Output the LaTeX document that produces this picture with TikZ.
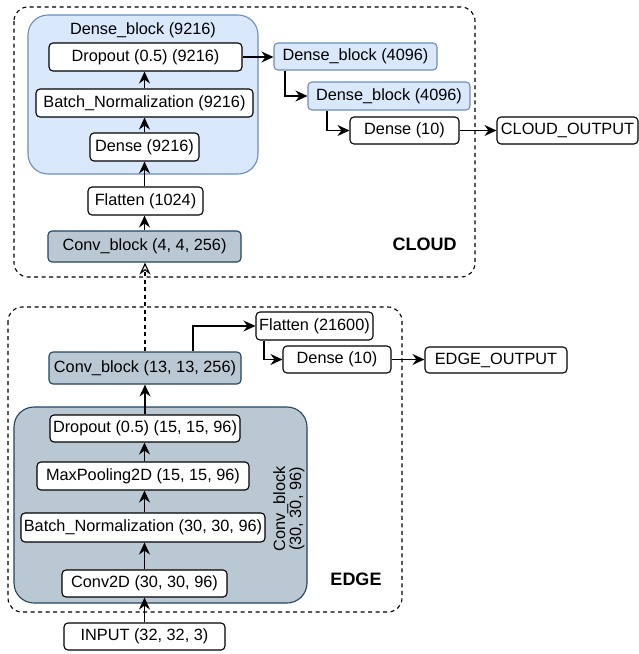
\documentclass[tikz,border=0pt]{standalone}
\usepackage{fontspec}
\setmainfont{Liberation Sans}
\usetikzlibrary{arrows.meta}
\definecolor{blockblue}{HTML}{DAE8FC}
\definecolor{blockblueline}{HTML}{6C8EBF}
\definecolor{convgrey}{HTML}{BAC8D3}
\definecolor{convgreyline}{HTML}{23445D}
\tikzset{
  layer/.style={draw, fill=white, rounded corners=4pt, line width=1.1pt,
    inner sep=0pt, anchor=center, font=\fontsize{16.3}{19}\selectfont},
  bluelayer/.style={layer, fill=blockblue, draw=blockblueline},
  greylayer/.style={layer, fill=convgrey, draw=convgreyline},
  zone/.style={draw, dashed, dash pattern=on 4pt off 3.5pt, line width=1.1pt, rounded corners=14pt},
  container/.style={line width=1.1pt, rounded corners=20pt},
  arr/.style={line width=1.4pt, -{Stealth[length=12pt,width=11pt,inset=4pt]}},
  openarr/.style={line width=1.2pt, dashed, dash pattern=on 4pt off 3.5pt,
    -{Stealth[open,length=12pt,width=11pt,inset=4pt,line width=1.2pt]}},
  zonelabel/.style={font=\fontsize{18}{21}\selectfont\bfseries},
}
\begin{document}
\begin{tikzpicture}[x=1pt,y=-1pt]
\useasboundingbox (0,0) rectangle (639,654);

% dashed zones
\draw[zone] (14,7) rectangle (475,277);
\draw[zone] (8,307) rectangle (402,612);
\node[zonelabel] (cloudlbl) at (424.5,244.5) {CLOUD};
\node[zonelabel] (edgelbl) at (356,579) {EDGE};

% containers
\draw[container, fill=blockblue, draw=blockblueline] (28,15) rectangle (258,174);
\node[font=\fontsize{16.3}{19}\selectfont] (denseblktitle) at (143,30) {Dense\_block (9216)};
\draw[container, fill=convgrey, draw=convgreyline] (14,407) rectangle (307,603);
\node[font=\fontsize{16.3}{16}\selectfont, rotate=90, align=center] (convblktitle) at (289,509) {Conv\_block\\(30, 30, 96)};

% cloud layers
\node[layer, minimum width=193pt, minimum height=28pt] (drop1) at (145.5,57) {Dropout (0.5) (9216)};
\node[layer, minimum width=217pt, minimum height=28pt] (bn1) at (144.5,103) {Batch\_Normalization (9216)};
\node[layer, minimum width=109pt, minimum height=28pt] (dense1) at (144.5,147) {Dense (9216)};
\node[layer, minimum width=115pt, minimum height=28pt] (flat1) at (145.5,201) {Flatten (1024)};
\node[greylayer, minimum width=193pt, minimum height=31pt] (conv4) at (144.5,246.5) {Conv\_block (4, 4, 256)};
\node[bluelayer, minimum width=163pt, minimum height=27pt] (db1) at (355.5,56.5) {Dense\_block (4096)};
\node[bluelayer, minimum width=162pt, minimum height=28pt] (db2) at (389,96) {Dense\_block (4096)};
\node[layer, minimum width=109pt, minimum height=27pt] (dense10c) at (404.5,130.5) {Dense (10)};
\node[layer, minimum width=141pt, minimum height=27pt] (cloudout) at (567.5,130.5) {CLOUD\_OUTPUT};

% edge layers
\node[greylayer, minimum width=192pt, minimum height=32pt] (conv13) at (145,368) {Conv\_block (13, 13, 256)};
\node[layer, minimum width=117pt, minimum height=28pt] (flat2) at (314.5,326) {Flatten (21600)};
\node[layer, minimum width=108pt, minimum height=27pt] (dense10e) at (337,359.5) {Dense (10)};
\node[layer, minimum width=142pt, minimum height=26pt] (edgeout) at (496,360) {EDGE\_OUTPUT};
\node[layer, minimum width=190pt, minimum height=27pt] (drop2) at (145,428.5) {Dropout (0.5) (15, 15, 96)};
\node[layer, minimum width=212pt, minimum height=28pt] (mp) at (143,476) {MaxPooling2D (15, 15, 96)};
\node[layer, minimum width=244pt, minimum height=29pt] (bn2) at (143,527.5) {Batch\_Normalization (30, 30, 96)};
\node[layer, minimum width=165pt, minimum height=27pt] (conv2d) at (144.5,583.5) {Conv2D (30, 30, 96)};
\node[layer, minimum width=161pt, minimum height=27pt] (input) at (144.5,636.5) {INPUT (32, 32, 3)};

% edge connectors
\draw[arr] (input.north) -- (input.north |- conv2d.south);
\draw[arr] (conv2d.north) -- (conv2d.north |- bn2.south);
\draw[arr] (conv2d.north |- bn2.north) -- (conv2d.north |- mp.south);
\draw[arr] (conv2d.north |- mp.north) -- (conv2d.north |- drop2.south);
\draw[arr] (drop2.north) -- (drop2.north |- conv13.south);
\draw[arr] ([xshift=48pt]conv13.north) |- (flat2.west);
\draw[arr] ([xshift=-50.5pt]flat2.south) |- (dense10e.west);
\draw[arr] (dense10e.east) -- (dense10e.east -| edgeout.west);

% edge to cloud
\draw[openarr] (conv13.north) -- (conv13.north |- conv4.south);

% cloud connectors
\draw[arr] (conv4.north) -- (conv4.north |- flat1.south);
\draw[arr] (conv4.north |- flat1.north) -- (conv4.north |- dense1.south);
\draw[arr] (conv4.north |- dense1.north) -- (conv4.north |- bn1.south);
\draw[arr] (conv4.north |- bn1.north) -- (conv4.north |- drop1.south);
\draw[arr] (drop1.east) -- (drop1.east -| db1.west);
\draw[arr] ([xshift=-70.5pt]db1.south) |- (db2.west);
\draw[arr] ([xshift=-62pt]db2.south) |- (dense10c.west);
\draw[arr] (dense10c.east) -- (cloudout.west);
\end{tikzpicture}
\end{document}
